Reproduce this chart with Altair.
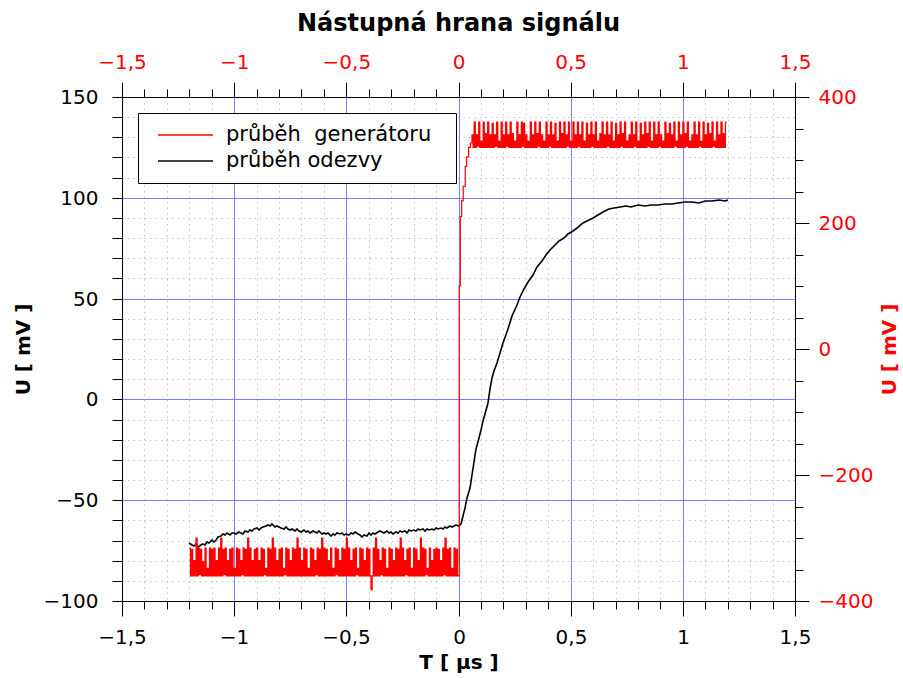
import altair as alt
import pandas as pd

# Oscilloscope timebase (µs)
LOW_START = -1.2
HIGH_START = 0.06
GEN_STEP = 0.005
RESP_STEP = 0.01

GEN = "průběh\u00a0\u00a0generátoru\u2800"
RESP = "průběh odezvy"

# Generator output (right axis, mV) before the edge, one sample per GEN_STEP
red_low = [
    -316, -360, -318, -360, -336, -360, -300, -360, -316, -358, -318, -360, -338, -360, -316, -360, -348, -360, -316, -360,
    -318, -360, -316, -360, -336, -360, -316, -360, -300, -360, -318, -358, -316, -360, -336, -360, -318, -360, -316, -360,
    -348, -360, -316, -360, -318, -360, -336, -358, -316, -360, -318, -360, -300, -360, -316, -360, -336, -360, -318, -360,
    -316, -360, -336, -360, -316, -360, -318, -358, -348, -360, -316, -360, -318, -360, -300, -360, -316, -360, -336, -360,
    -318, -360, -316, -360, -348, -358, -316, -360, -318, -360, -336, -360, -316, -360, -318, -360, -300, -360, -316, -360,
    -336, -360, -316, -360, -318, -360, -348, -360, -316, -360, -318, -360, -336, -358, -316, -360, -318, -360, -300, -360,
    -316, -360, -318, -360, -336, -360, -316, -360, -348, -360, -316, -358, -318, -360, -336, -360, -316, -360, -318, -360,
    -300, -360, -316, -360, -336, -360, -318, -360, -316, -358, -348, -360, -316, -360, -318, -360, -336, -360, -316, -360,
    -318, -360, -382, -360, -316, -360, -300, -360, -318, -360, -336, -358, -316, -360, -318, -360, -348, -360, -316, -360,
    -318, -360, -336, -360, -316, -360, -318, -360, -300, -360, -316, -360, -336, -358, -318, -360, -316, -360, -348, -360,
    -316, -360, -318, -360, -336, -360, -300, -360, -316, -360, -318, -358, -348, -360, -316, -360, -336, -360, -318, -360,
    -316, -360, -318, -360, -336, -360, -316, -358, -300, -360, -318, -360, -316, -360, -348, -360, -316, -360, -318, -360,
    -360,
]

# Generator rising edge
red_edge_t = [0.003, 0.008, 0.014, 0.021, 0.030, 0.036, 0.045, 0.053]
red_edge_u = [100, 210, 235, 258, 290, 305, 320, 327]

# Generator output after the edge, one sample per GEN_STEP from HIGH_START
red_high = [
    340, 320, 360, 320, 340, 322, 360, 320, 330, 320, 360, 320, 342, 320, 360, 320, 340, 320, 358, 320,
    340, 322, 360, 320, 330, 320, 360, 320, 340, 320, 360, 322, 340, 320, 360, 320, 342, 320, 330, 320,
    360, 320, 340, 320, 360, 322, 358, 320, 340, 320, 330, 320, 360, 320, 340, 320, 360, 320, 342, 322,
    360, 320, 340, 320, 330, 320, 360, 320, 340, 322, 360, 320, 340, 320, 358, 320, 330, 320, 360, 320,
    342, 320, 360, 320, 340, 322, 360, 320, 330, 320, 360, 320, 340, 320, 360, 322, 340, 320, 360, 320,
    330, 320, 358, 320, 340, 320, 360, 322, 340, 320, 360, 320, 330, 320, 342, 320, 360, 320, 340, 320,
    360, 322, 340, 320, 360, 320, 330, 320, 358, 320, 340, 320, 360, 322, 342, 320, 360, 320, 330, 320,
    340, 320, 360, 320, 340, 322, 360, 320, 330, 320, 358, 320, 340, 320, 360, 320, 342, 322, 360, 320,
    330, 320, 360, 320, 340, 320, 360, 322, 340, 320, 330, 320, 360, 320, 342, 320, 358, 320, 340, 320,
    360, 322, 330, 320, 360, 320, 340, 320, 360, 320, 342, 322, 360, 320, 330, 320, 340, 320, 360, 320,
    340, 320, 360, 322, 330, 320, 360, 320, 340, 320, 358, 320, 342, 320, 360, 322, 330, 320, 360, 320,
    340, 320, 360, 320, 342, 320, 360, 360,
]

# Response (left axis, mV) before the edge, one sample per RESP_STEP
black_low = [
    -71, -72, -72.5, -71.5, -73, -72, -71.5, -72, -70.5, -71,
    -69.5, -70.5, -69.5, -68.5, -68, -67, -67.5, -66.5, -67.5, -66.5,
    -66.5, -67, -66, -66.5, -67, -65.5, -66, -65, -65.5, -64.5,
    -64, -65, -64, -63.5, -63, -62.5, -63, -62, -63.5, -63,
    -63.5, -64, -64.5, -63.5, -64.5, -65, -64.5, -65.5, -64.5, -65.5,
    -66, -65, -66, -65.5, -66.5, -65.5, -66, -66.5, -65.5, -67,
    -66.5, -67, -66.5, -68, -67, -67.5, -66.5, -67, -66.5, -67.5,
    -67, -67.5, -66.5, -67, -66, -67, -67.5, -68.5, -67.5, -68,
    -66.5, -67.5, -66.5, -67, -66, -65.5, -66, -66.5, -65.5, -66.5,
    -66, -67, -66, -66.5, -65.5, -66, -65.5, -66.5, -65, -65.5,
    -65, -65.5, -64.5, -65, -64.5, -65.5, -64.5, -65, -64.5, -65,
    -64, -64.5, -64, -64.5, -63.5, -64, -63, -63.5, -63, -62.5,
    -63,
]

# Response rise and settling
black_rise_t = [
    0.01, 0.02, 0.03, 0.04, 0.05, 0.06, 0.07, 0.08, 0.09, 0.10,
    0.11, 0.12, 0.13, 0.14, 0.15, 0.16, 0.17, 0.185, 0.20, 0.22,
    0.24, 0.26, 0.275, 0.29, 0.31, 0.33, 0.35, 0.37, 0.39, 0.41,
    0.43, 0.45, 0.47, 0.49, 0.51, 0.53, 0.555, 0.58, 0.60, 0.62,
    0.645, 0.67, 0.695, 0.72, 0.745, 0.77, 0.80, 0.83, 0.86, 0.89,
    0.92, 0.95, 0.98, 1.01, 1.04, 1.07, 1.10, 1.13, 1.16, 1.19,
    1.20,
]
black_rise_u = [
    -62, -58, -54, -49, -44, -37.5, -31, -24.5, -19, -15,
    -10.5, -7, -2, 5, 10.5, 14, 18, 23, 28, 35,
    41.5, 47, 51, 55, 58, 61.5, 65.5, 68.5, 71.5, 74,
    76.5, 78.5, 80, 82, 83.5, 85, 87.4, 89, 90, 91.5,
    93, 94.5, 95, 95.5, 95.8, 95.6, 96.2, 95.9, 96.6, 96.3,
    97, 96.8, 97.5, 97.9, 98.1, 97.6, 98.4, 98.2, 98.8, 98.6,
    98.9,
]

# Axis tick positions
x_ticks = [round(-1.5 + 0.1 * i, 1) for i in range(31)]
y_ticks = list(range(-100, 151, 10))
y2_ticks = list(range(-400, 401, 50))

gen_t = ([round(LOW_START + GEN_STEP * i, 4) for i in range(len(red_low))]
         + red_edge_t
         + [round(HIGH_START + GEN_STEP * i, 4) for i in range(len(red_high))])
gen_u = red_low + red_edge_u + red_high
gen = pd.DataFrame({"t": gen_t, "u": gen_u, "series": GEN})

resp_t = [round(LOW_START + RESP_STEP * i, 3) for i in range(len(black_low))] + black_rise_t
resp_u = black_low + black_rise_u
resp = pd.DataFrame({"t": resp_t, "u": resp_u, "series": RESP})

FONT = "DejaVu Sans"
RED = "#ff0000"
BLUE = "#7c7cff"
DOTS = "#c4c4c4"
MAJOR_X = "abs(datum.value * 2 - round(datum.value * 2)) < 0.001"
EDGE_X = "abs(datum.value) > 1.45"
MAJOR_Y = "datum.value % 50 == 0"
EDGE_Y = "datum.value <= -100 || datum.value >= 150"
MAJOR_Y2 = "datum.value % 200 == 0"
COMMA = "replace(format(datum.value, '~g'), '.', ',')"

color = alt.Color(
    "series:N",
    scale=alt.Scale(domain=[GEN, RESP], range=[RED, "#000000"]),
    legend=alt.Legend(
        title=None, orient="none", legendX=16, legendY=16,
        direction="vertical", symbolType="stroke", symbolSize=3025,
        symbolStrokeWidth=1.5, symbolOffset=10,
        labelFont=FONT, labelFontSize=21, labelColor="black",
        labelOffset=12, clipHeight=26, rowPadding=0, padding=9,
        strokeColor="black", fillColor="white", labelLimit=0,
    ),
)

x_bottom = alt.X(
    "t:Q",
    scale=alt.Scale(domain=[-1.5, 1.5], nice=False, zero=False, round=True),
    axis=alt.Axis(
        orient="bottom", values=x_ticks,
        labelExpr=f"{MAJOR_X} ? {COMMA} : ''",
        labelFlush=False, labelOverlap=False,
        tickSize={"condition": {"test": MAJOR_X, "value": 15}, "value": 8},
        tickColor="black", domainColor="black",
        grid=True,
        gridColor={"condition": {"test": MAJOR_X, "value": BLUE}, "value": DOTS},
        gridDash={"condition": {"test": MAJOR_X, "value": []}, "value": [1.5, 4]},
        gridOpacity={"condition": {"test": EDGE_X, "value": 0}, "value": 1},
        labelFont=FONT, labelFontSize=20, labelColor="black", labelPadding=11,
        title="T [ µs ]", titleFont=FONT, titleFontSize=20,
        titleFontWeight="bold", titleColor="black", titlePadding=5,
    ),
)

y_left = alt.Y(
    "u:Q",
    scale=alt.Scale(domain=[-100, 150], nice=False, zero=False, round=True),
    axis=alt.Axis(
        orient="left", values=y_ticks,
        labelExpr=f"{MAJOR_Y} ? format(datum.value, '~g') : ''",
        labelOverlap=False, tickSize=10, tickColor="black", domainColor="black",
        grid=True,
        gridColor={"condition": {"test": MAJOR_Y, "value": BLUE}, "value": DOTS},
        gridDash={"condition": {"test": MAJOR_Y, "value": []}, "value": [1.5, 4]},
        gridOpacity={"condition": {"test": EDGE_Y, "value": 0}, "value": 1},
        labelFont=FONT, labelFontSize=20, labelColor="black", labelPadding=14,
        title="U [ mV ]", titleFont=FONT, titleFontSize=20,
        titleFontWeight="bold", titleColor="black", titlePadding=10,
    ),
)

x_top = alt.X(
    "t:Q",
    scale=alt.Scale(domain=[-1.5, 1.5], nice=False, zero=False),
    axis=alt.Axis(
        orient="top", values=x_ticks,
        labelExpr=f"{MAJOR_X} ? {COMMA} : ''",
        labelFlush=False, labelOverlap=False,
        tickSize={"condition": {"test": MAJOR_X, "value": 15}, "value": 8},
        tickColor="black", domainColor="black", grid=False,
        labelFont=FONT, labelFontSize=20, labelColor=RED, labelPadding=10,
        title=None,
    ),
)

y_right = alt.Y(
    "u:Q",
    scale=alt.Scale(domain=[-400, 400], nice=False, zero=False),
    axis=alt.Axis(
        orient="right", values=y2_ticks,
        labelExpr=f"{MAJOR_Y2} ? format(datum.value, '~g') : ''",
        labelOverlap=False,
        tickSize={"condition": {"test": MAJOR_Y2, "value": 14}, "value": 8},
        tickColor="black", domainColor="black", grid=False,
        labelFont=FONT, labelFontSize=20, labelColor=RED, labelPadding=9,
        title="U [ mV ]", titleFont=FONT, titleFontSize=20,
        titleFontWeight="bold", titleColor=RED, titleAngle=270, titlePadding=27,
    ),
)

response = alt.Chart(resp).mark_line(strokeWidth=1.6).encode(
    x=x_bottom, y=y_left, color=color
)

generator = alt.Chart(gen).mark_line(
    strokeWidth=1.2, interpolate="step-after"
).encode(x=x_top, y=y_right, color=color)

chart = (
    alt.layer(response, generator)
    .resolve_scale(x="independent", y="independent", color="shared")
    .properties(
        width=673, height=504,
        autosize=alt.AutoSizeParams(type="none"),
        padding={"left": 122, "top": 97, "right": 108, "bottom": 77},
        title=alt.TitleParams(
            "Nástupná hrana signálu", font=FONT, fontSize=24,
            fontWeight="bold", color="black", anchor="middle", offset=16,
        ),
        background="white",
    )
    .configure_view(stroke=None)
)

chart.save("out.html", embed_options={"renderer": "svg", "actions": False})
